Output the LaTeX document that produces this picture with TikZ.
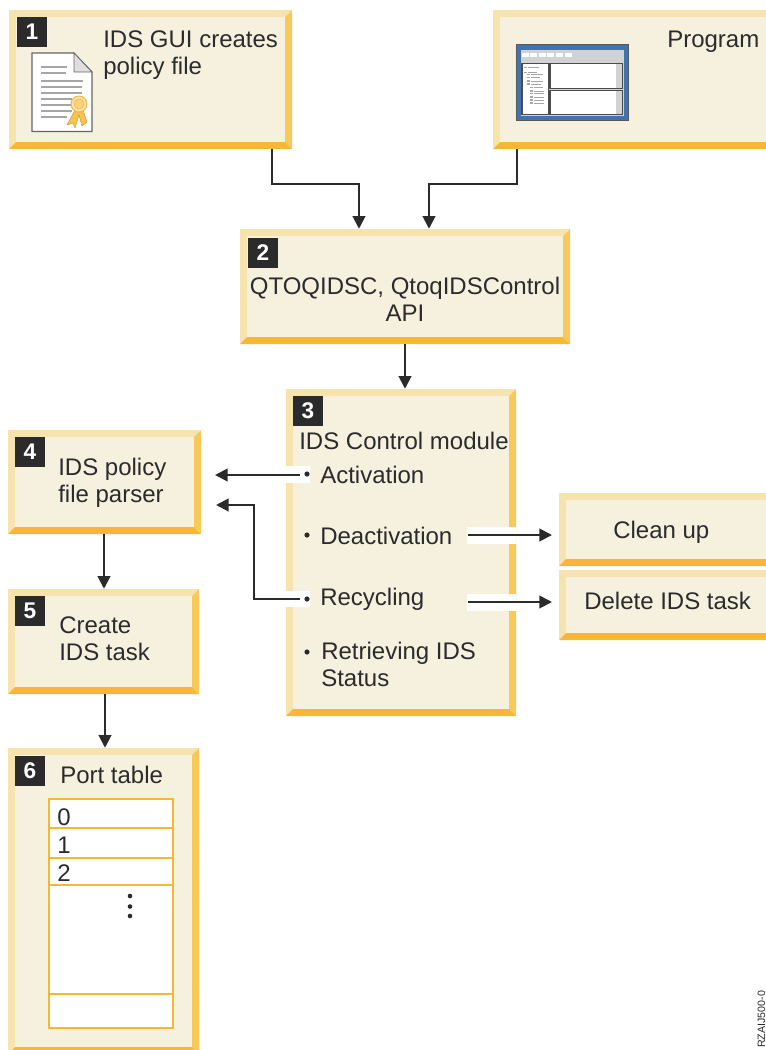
\documentclass[tikz,border=0pt]{standalone}
\usepackage{fontspec}
\setmainfont{Liberation Sans}
\usetikzlibrary{arrows.meta,fit,calc}
\definecolor{bevT}{HTML}{F7E3AE}
\definecolor{bevR}{HTML}{F7C85A}
\definecolor{bevB}{HTML}{F5B735}
\definecolor{face}{HTML}{F6F1DF}
\definecolor{ink}{HTML}{2B2B2B}
\definecolor{winblue}{HTML}{3F74AE}
\tikzset{
  x=0.75pt,y=-0.75pt,
  lbl/.style={font=\fontsize{18}{20.25}\selectfont,text=ink,inner sep=0pt,align=left},
  badge/.style={fill=ink,text=white,font=\fontsize{17}{17}\selectfont\bfseries,minimum width=22.5pt,minimum height=22.5pt,inner sep=0pt},
  conn/.style={draw=ink,line width=1.5pt,-{Stealth[length=9.5pt,width=9.5pt,inset=0pt]}},
  gap/.style={fill=white,draw=none},
  cell/.style={draw=bevB,line width=1.8pt},
  panel/.style={inner sep=0pt,draw=none},
  gline/.style={draw=gray!70,line width=0.9pt},
}
% name, x0,y0,x1,y1
\newcommand{\bevelbox}[5]{%
  \fill[bevT] (#2,#3) -- (#4,#3) -- (#4-7,#3+7) -- (#2+7,#5-7) -- (#2,#5) -- cycle;
  \fill[bevR] (#4,#3) -- (#4,#5) -- (#4-7,#5-7) -- (#4-7,#3+7) -- cycle;
  \fill[bevB] (#2,#5) -- (#4,#5) -- (#4-7,#5-7) -- (#2+7,#5-7) -- cycle;
  \fill[face] (#2+7,#3+7) rectangle (#4-7,#5-7);
  \node[panel,fit={(#2,#3)(#4,#5)}] (#1) {};
}
\begin{document}
\begin{tikzpicture}
\useasboundingbox (0,0) rectangle (766,1050);
\bevelbox{b1}{9}{10}{292}{149}
\bevelbox{bp}{493}{10}{790}{149}
\bevelbox{b2}{240}{229}{570}{344}
\bevelbox{b3}{286}{389}{516}{716}
\bevelbox{b4}{8}{430}{201}{534}
\bevelbox{b5}{8}{589}{199}{694}
\bevelbox{b6}{8}{748}{199}{1054}
\bevelbox{bc}{559}{493}{790}{566}
\bevelbox{bd}{559}{570}{790}{640}

% badges
\node[badge] (n1) at (32,32) {1};
\node[badge] (n2) at (263,253) {2};
\node[badge] (n3) at (308,411) {3};
\node[badge] (n4) at (30,452) {4};
\node[badge] (n5) at (30,611) {5};
\node[badge] (n6) at (30,771) {6};

% document icon
\fill[white,draw=gray!80!black,line width=0.8pt] (32,53) -- (74,53) -- (92,72) -- (92,131.5) -- (32,131.5) -- cycle;
\fill[gray!25,draw=gray!80!black,line width=0.6pt] (74,53) -- (92,72) -- (74,72) -- cycle;
\foreach \ya/\xb in {67/67,73/66,81/83,87/82,93/82,99/72,105/72,111/72,117/67}
  \draw[gline] (41,\ya) -- (\xb,\ya);
\fill[bevR!70!bevB,draw=bevB!80!black,line width=0.3pt] (75,110) -- (67,125) -- (73,123) -- (75,128) -- (79,115) -- (82,126) -- (87,122) -- (83,110) -- cycle;
\fill[bevT,draw=bevB,line width=0.7pt] (79,104) circle (8);
\fill[bevR!80,draw=bevB,line width=0.4pt] (79,104) circle (5);

% window icon
\fill[winblue,draw=gray!70!black,line width=0.5pt] (516,44) rectangle (628,120);
\fill[gray!35] (521,50) rectangle (624,116);
\foreach \xa/\xb in {522/529,530/537,539/546,547/554,556/563,565/572}
  \fill[white] (\xa,53) rectangle (\xb,57);
\fill[white,draw=gray!60!black,line width=0.9pt] (522,63.5) rectangle (548.5,114.5);
\fill[white,draw=gray!60!black,line width=0.9pt] (550,63.5) rectangle (622,88.5);
\fill[white,draw=gray!60!black,line width=0.9pt] (550,90.5) rectangle (622,114.5);
\fill[gray!35] (616,64) rectangle (621.5,88);
\fill[gray!35] (616,91) rectangle (621.5,114);
\foreach \xa/\xb/\ya in {524/539/67.5,524/537/72.5,527/543/74.5,527/540/77.5,527/543/81,527/541/84,530/543/87.5,530/544/91,530/544/93.5,530/544/97,530/544/100,530/544/103}{
  \fill[gray!70] (\xa,\ya-0.9) rectangle (\xa+3,\ya+0.9);
  \draw[gray!70,line width=0.5pt] (\xa+4,\ya) -- (\xb,\ya);
}

% port table
\fill[white] (48,798) rectangle (174,1029);
\draw[cell] (49,799) rectangle (173,1028);
\draw[cell] (49,828) -- (173,828);
\draw[cell] (49,858) -- (173,858);
\draw[cell] (49,885) -- (173,885);
\draw[cell] (49,994) -- (173,994);
\node[lbl,anchor=base west] (p0) at (57,825) {0};
\node[lbl,anchor=base west] (p1) at (57,853) {1};
\node[lbl,anchor=base west] (p2) at (57,881) {2};
\fill[ink] (130,896) circle (2.3) (130,906.5) circle (2.3) (130,916) circle (2.3);

% gaps in module box
\fill[gap] (286,466) rectangle (310,483);
\fill[gap] (286,591) rectangle (310,607);
\fill[gap] (467,527) rectangle (516,544);
\fill[gap] (467,594) rectangle (516,611);

% labels
\node[lbl,anchor=north west] (t1) at (103,30) {IDS GUI creates\\policy file};
\node[lbl,anchor=base west] (tp) at (667,47) {Program};
\node[lbl,anchor=north,align=center] (t2) at (405,277) {QTOQIDSC, QtoqIDSControl\\API};
\node[lbl,anchor=base west] (t3) at (299,449) {IDS Control module};
\node[lbl,anchor=base west] (ta) at (320,483) {Activation};
\node[lbl,anchor=base west] (td) at (320,544) {Deactivation};
\node[lbl,anchor=base west] (tr) at (320,605) {Recycling};
\node[lbl,anchor=north west] (ts) at (321,642) {Retrieving IDS\\Status};
\node[lbl,anchor=north west] (t4) at (58,458) {IDS policy\\file parser};
\node[lbl,anchor=north west] (t5) at (59,616) {Create\\IDS task};
\node[lbl,anchor=base west] (t6) at (60,783) {Port table};
\node[lbl,anchor=base west] (tc) at (613,538) {Clean up};
\node[lbl,anchor=base west] (tx) at (584,609) {Delete IDS task};
\fill[ink] (307,474) circle (2.6) (307,535) circle (2.6) (307,599) circle (2.6) (307,652) circle (2.6);

% rotated job number
\node[font=\fontsize{8}{8}\selectfont,text=ink,rotate=90,anchor=base west,inner sep=0pt] (rz) at (765,1048) {RZAIJ500-0};

% connector coordinates
\coordinate (c1) at (272,184);
\coordinate (c2) at (359,184);
\coordinate (c3) at (517,184);
\coordinate (c4) at (429,184);
\coordinate (c5) at (405,366);
\coordinate (c6) at (104,560);
\coordinate (c7) at (105,720);
\coordinate (aS) at (300,475);
\coordinate (aE) at (215,475);
\coordinate (rS) at (300,599);
\coordinate (rM) at (254,599);
\coordinate (rN) at (254,505);
\coordinate (rE) at (216,505);
\coordinate (dS) at (468,535);
\coordinate (dE) at (552,535);
\coordinate (eS) at (468,602);
\coordinate (eE) at (552,602);

\draw[conn] (b1.south -| c1) -- (c1) -- (c2) -- (c2 |- b2.north);
\draw[conn] (bp.south -| c3) -- (c3) -- (c4) -- (c4 |- b2.north);
\draw[conn] (b2.south -| c5) -- (b3.north -| c5);
\draw[conn] (b4.south -| c6) -- (b5.north -| c6);
\draw[conn] (b5.south -| c7) -- (b6.north -| c7);
\draw[conn] (aS) -- (aE);
\draw[conn] (rS) -- (rM) -- (rN) -- (rE);
\draw[conn] (dS) -- (dE);
\draw[conn] (eS) -- (eE);
\end{tikzpicture}
\end{document}
